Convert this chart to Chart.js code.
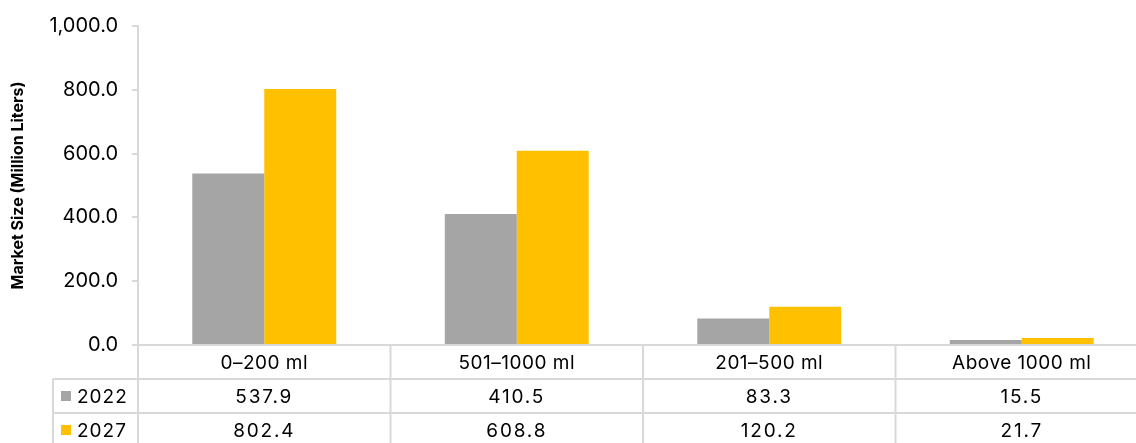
<!DOCTYPE html>
<html lang="en">
<head>
    <meta charset="UTF-8">
    <title>Market Size by Pack Size</title>
    <script src="https://cdn.jsdelivr.net/npm/chart.js@4.4.1/dist/chart.umd.min.js"></script>
    <style>
        html, body { margin: 0; padding: 0; background: #fff; overflow: hidden; }
        #wrap { width: 1150px; height: 443px; position: relative; }
    </style>
</head>
<body>
    <div id="wrap"><canvas id="chart"></canvas></div>
    <script>
        const categories = ['0\u2013200 ml', '501\u20131000 ml', '201\u2013500 ml', 'Above 1000 ml'];
        const years = ['2022', '2027'];
        const values2022 = [537.9, 410.5, 83.3, 15.5];
        const values2027 = [802.4, 608.8, 120.2, 21.7];
        const colors = ['#a5a5a5', '#ffc000'];
        const yTicks = [0, 200, 400, 600, 800, 1000];

        const FONT = 'Inter, "Liberation Sans", sans-serif';
        const GRID = '#d9d9d9';
        const ROW_H = 34;
        const NUM_SPACING = '1.8px';

        // data table under the x axis, like the Excel chart
        const dataTable = {
            id: 'dataTable',
            afterDraw(chart) {
                const ctx = chart.ctx;
                const area = chart.chartArea;
                const xs = chart.scales.x;
                const n = categories.length;
                const colW = (area.right - area.left) / n;
                const top = area.bottom;
                const labelLeft = 53;
                const rows = [values2022, values2027];

                ctx.save();
                ctx.strokeStyle = GRID;
                ctx.lineWidth = 2;

                // horizontal lines
                ctx.beginPath();
                ctx.moveTo(area.left, top); ctx.lineTo(area.right, top);
                for (let r = 1; r <= 2; r++) {
                    ctx.moveTo(labelLeft, top + r * ROW_H);
                    ctx.lineTo(area.right, top + r * ROW_H);
                }
                // vertical lines
                for (let i = 0; i <= n; i++) {
                    const x = area.left + i * colW;
                    ctx.moveTo(x, top);
                    ctx.lineTo(x, chart.height);
                }
                ctx.moveTo(labelLeft, top + ROW_H);
                ctx.lineTo(labelLeft, chart.height);
                ctx.stroke();

                ctx.fillStyle = '#000';
                ctx.font = '19px ' + FONT;
                ctx.textAlign = 'center';
                ctx.textBaseline = 'middle';
                categories.forEach((c, i) => {
                    const x = xs.getPixelForValue(i);
                    ctx.letterSpacing = '0.5px';
                    ctx.fillText(c, x, top + ROW_H / 2 + 1);
                    ctx.letterSpacing = NUM_SPACING;
                    rows.forEach((row, r) => {
                        ctx.fillText(row[i].toFixed(1), x, top + ROW_H * (r + 1.5) + 1);
                    });
                });

                // legend keys + year labels
                years.forEach((y, r) => {
                    const cy = top + ROW_H * (r + 1.5);
                    ctx.fillStyle = colors[r];
                    ctx.fillRect(61, cy - 5, 10, 10);
                    ctx.fillStyle = '#000';
                    ctx.textAlign = 'left';
                    ctx.letterSpacing = '1px';
                    ctx.fillText(y, 77, cy + 1);
                });
                ctx.restore();
            }
        };

        new Chart(document.getElementById('chart'), {
            type: 'bar',
            data: {
                labels: categories,
                datasets: [
                    { label: years[0], data: values2022, backgroundColor: colors[0] },
                    { label: years[1], data: values2027, backgroundColor: colors[1] }
                ]
            },
            options: {
                responsive: true,
                maintainAspectRatio: false,
                animation: false,
                layout: { padding: { top: 15, right: 2, bottom: 98, left: 0 } },
                datasets: { bar: { barPercentage: 1, categoryPercentage: 0.57 } },
                plugins: {
                    legend: { display: false },
                    tooltip: { enabled: false }
                },
                scales: {
                    x: { display: false },
                    y: {
                        min: 0,
                        max: 1000,
                        afterBuildTicks: (s) => { s.ticks = yTicks.map(v => ({ value: v })); },
                        afterFit: (s) => { s.width = 138; },
                        border: { color: GRID, width: 2 },
                        grid: { drawOnChartArea: false, color: GRID, lineWidth: 2, tickLength: 6 },
                        ticks: {
                            color: '#000',
                            padding: 14,
                            font: { family: FONT, size: 20 },
                            callback: (v) => v.toLocaleString('en-US', { minimumFractionDigits: 1, maximumFractionDigits: 1 })
                        },
                        title: {
                            display: true,
                            text: 'Market Size (Million Liters)',
                            color: '#000',
                            padding: { top: 9, bottom: 0 },
                            font: { family: FONT, size: 16, weight: 'bold' }
                        }
                    }
                }
            },
            plugins: [dataTable]
        });
    </script>
</body>
</html>
